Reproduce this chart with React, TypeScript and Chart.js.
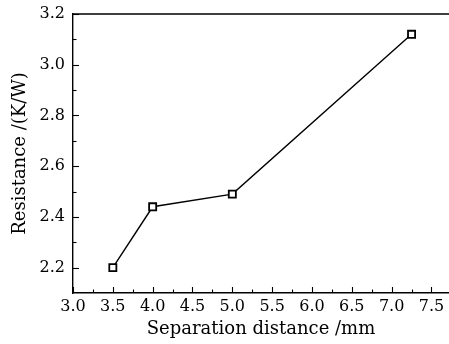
import React, { useEffect, useRef } from "react";
import { Chart, registerables } from "chart.js";

Chart.register(...registerables);

const separationDistance = [3.5, 4.0, 5.0, 7.25];
const resistance = [2.2, 2.44, 2.49, 3.12];

const xTickValues = [3.0, 3.5, 4.0, 4.5, 5.0, 5.5, 6.0, 6.5, 7.0, 7.5];
const xMinorTicks = [3.25, 3.75, 4.25, 4.75, 5.25, 5.75, 6.25, 6.75, 7.25];
const yTickValues = [2.2, 2.4, 2.6, 2.8, 3.0, 3.2];
const yMinorTicks = [2.3, 2.5, 2.7, 2.9, 3.1];

const xTitle = "Separation distance /mm";
const yTitle = "Resistance /(K/W)";

const FONT = "'DejaVu Serif', 'Liberation Serif', serif";

const inwardTicks = {
  id: "inwardTicks",
  afterDraw(chart: any) {
    const { ctx, chartArea } = chart;
    const xs = chart.scales.x;
    const ys = chart.scales.y;
    ctx.save();
    ctx.strokeStyle = "#000";
    ctx.lineWidth = 1.4;
    ctx.beginPath();
    ctx.moveTo(chartArea.left, chartArea.top);
    ctx.lineTo(chartArea.right, chartArea.top);
    ctx.stroke();
    const bottom = chartArea.bottom;
    const left = chartArea.left;
    ctx.lineWidth = 1.1;
    const drawX = (v: number, len: number) => {
      const px = Math.round(xs.getPixelForValue(v)) + 0.5;
      ctx.beginPath();
      ctx.moveTo(px, bottom);
      ctx.lineTo(px, bottom - len);
      ctx.stroke();
    };
    const drawY = (v: number, len: number) => {
      const py = Math.round(ys.getPixelForValue(v)) + 0.5;
      ctx.beginPath();
      ctx.moveTo(left, py);
      ctx.lineTo(left + len, py);
      ctx.stroke();
    };
    xTickValues.forEach((v) => drawX(v, 6));
    xMinorTicks.forEach((v) => drawX(v, 3.5));
    yTickValues.forEach((v) => drawY(v, 6));
    yMinorTicks.forEach((v) => drawY(v, 3.5));
    ctx.restore();
  },
};

export default function App() {
  const ref = useRef<HTMLCanvasElement>(null);
  useEffect(() => {
    document.body.style.margin = "0";
    const chart = new Chart(ref.current!, {
      type: "scatter",
      data: {
        datasets: [
          {
            data: separationDistance.map((x, i) => ({ x, y: resistance[i] })),
            showLine: true,
            borderColor: "#000",
            borderWidth: 1.4,
            pointStyle: "rect",
            pointRadius: 5,
            pointHoverRadius: 5,
            pointBorderWidth: 1.8,
            pointBackgroundColor: "#fff",
            pointBorderColor: "#000",
            clip: 10,
          },
        ],
      },
      options: {
        responsive: false,
        animation: false,
        layout: { autoPadding: false, padding: { top: 14, right: 0, left: 0, bottom: 0 } },
        plugins: { legend: { display: false }, tooltip: { enabled: false } },
        scales: {
          x: {
            type: "linear",
            min: 3.0,
            max: 7.72,
            grid: { display: false, drawTicks: false },
            border: { display: true, color: "#000", width: 1.4 },
            afterBuildTicks: (s: any) => {
              s.ticks = xTickValues.map((v) => ({ value: v }));
            },
            afterFit: (s: any) => {
              s.height = 51;
              s.paddingLeft = 0;
              s.paddingRight = 0;
            },
            ticks: {
              padding: 4,
              color: "#000",
              font: { family: FONT, size: 16 },
              maxRotation: 0,
              autoSkip: false,
              callback: (v: any) => Number(v).toFixed(1),
            },
            title: {
              display: true,
              text: xTitle,
              color: "#000",
              font: { family: FONT, size: 18 },
              padding: { top: 0, bottom: 4 },
            },
          },
          y: {
            type: "linear",
            min: 2.1,
            max: 3.2,
            grid: { display: false, drawTicks: false },
            border: { display: true, color: "#000", width: 1.4 },
            afterBuildTicks: (s: any) => {
              s.ticks = yTickValues.map((v) => ({ value: v }));
            },
            afterFit: (s: any) => {
              s.width = 73;
              s.paddingTop = 0;
              s.paddingBottom = 0;
            },
            ticks: {
              padding: 8,
              color: "#000",
              font: { family: FONT, size: 16 },
              autoSkip: false,
              callback: (v: any) => Number(v).toFixed(1),
            },
            title: {
              display: true,
              text: yTitle,
              color: "#000",
              font: { family: FONT, size: 18 },
              padding: { top: 10, bottom: 0 },
            },
          },
        },
      },
      plugins: [inwardTicks],
    });
    return () => chart.destroy();
  }, []);
  return (
    <div style={{ position: "absolute", left: 0, top: 0, width: 449, height: 344, background: "#fff" }}>
      <canvas ref={ref} width={449} height={344} />
    </div>
  );
}
